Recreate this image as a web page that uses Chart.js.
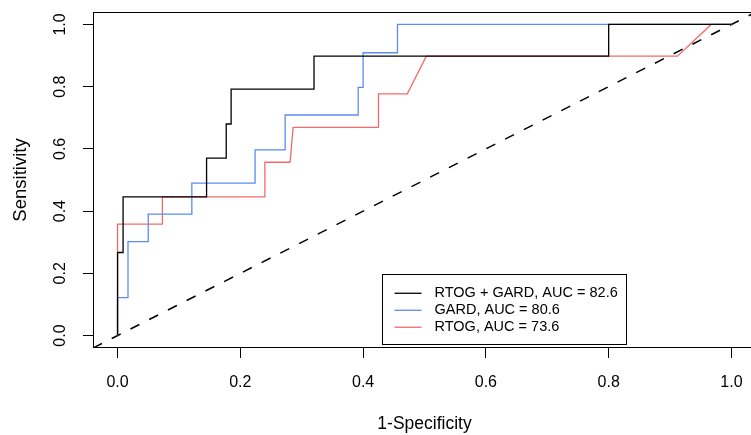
<!DOCTYPE html>
<html>
<head>
<meta charset="utf-8">
<style>
  html, body { margin: 0; padding: 0; background: #fff; overflow: hidden; }
  #wrap { width: 751px; height: 435px; overflow: hidden; }
</style>
<script src="https://cdn.jsdelivr.net/npm/chart.js@4.4.0/dist/chart.umd.min.js"></script>
</head>
<body>
<div id="wrap"><canvas id="roc" width="760" height="435"></canvas></div>
<script>
const FONT = '"Liberation Sans", Arial, Helvetica, sans-serif';

// ROC curve vertices (1-specificity, sensitivity)
const comboFpr = [0, 0, 0.009, 0.009, 0.145, 0.145, 0.177, 0.177, 0.185, 0.185, 0.32, 0.32, 0.8, 0.8, 1];
const comboTpr = [0, 0.267, 0.267, 0.446, 0.446, 0.57, 0.57, 0.68, 0.68, 0.792, 0.792, 0.898, 0.898, 1, 1];

const gardFpr = [0, 0, 0.017, 0.017, 0.05, 0.05, 0.121, 0.121, 0.224, 0.224, 0.273, 0.273, 0.392, 0.392, 0.4, 0.4, 0.456, 0.456, 1];
const gardTpr = [0, 0.122, 0.122, 0.302, 0.302, 0.39, 0.39, 0.49, 0.49, 0.597, 0.597, 0.709, 0.709, 0.798, 0.798, 0.909, 0.909, 1, 1];

const rtogFpr = [0, 0, 0.073, 0.073, 0.24, 0.24, 0.281, 0.286, 0.425, 0.425, 0.472, 0.503, 0.912, 0.967, 1];
const rtogTpr = [0, 0.358, 0.358, 0.446, 0.446, 0.557, 0.557, 0.669, 0.669, 0.777, 0.777, 0.898, 0.898, 1, 1];

const seriesLabels = ['RTOG + GARD, AUC = 82.6', 'GARD, AUC = 80.6', 'RTOG, AUC = 73.6'];
const seriesColors = ['#000000', '#5b8def', '#f36a6a'];

const diagX = [-0.04, 1.04];
const diagY = [-0.04, 1.04];

const xTicks = [0, 0.2, 0.4, 0.6, 0.8, 1.0];
const yTicks = [0, 0.2, 0.4, 0.6, 0.8, 1.0];

function toPoints(xs, ys) {
  return xs.map((x, i) => ({ x: x, y: ys[i] }));
}

function curve(label, color, xs, ys) {
  return {
    label: label,
    data: toPoints(xs, ys),
    borderColor: color,
    backgroundColor: color,
    borderWidth: 1.3,
    pointRadius: 0,
    tension: 0,
    fill: false
  };
}

const boxPlugin = {
  id: 'box',
  afterDraw(chart) {
    const { ctx, chartArea } = chart;
    ctx.save();
    ctx.strokeStyle = '#000';
    ctx.lineWidth = 1;
    ctx.strokeRect(chartArea.left + 0.5, chartArea.top + 0.5,
      chartArea.right - chartArea.left - 1, chartArea.bottom - chartArea.top - 1);
    ctx.restore();
  }
};

const legendBoxPlugin = {
  id: 'legendBox',
  afterDraw(chart) {
    const { ctx } = chart;
    const xs = chart.scales.x;
    const ys = chart.scales.y;
    const items = chart.data.datasets.filter((ds) => ds.label);
    ctx.save();
    ctx.font = '14.5px ' + FONT;
    const textW = Math.max(...items.map((ds) => ctx.measureText(ds.label).width));
    const left = xs.getPixelForValue(0.43);
    const bottom = ys.getPixelForValue(-0.028);
    const rowH = 17;
    const height = 70;
    const width = 13 + 27 + 13 + textW + 8;
    const top = bottom - height;

    ctx.fillStyle = '#fff';
    ctx.fillRect(left, top, width, height);
    ctx.strokeStyle = '#000';
    ctx.lineWidth = 1;
    ctx.strokeRect(Math.round(left) + 0.5, Math.round(top) + 0.5, Math.round(width), Math.round(height));

    items.forEach((ds, i) => {
      const y = top + 19 + i * rowH;
      ctx.strokeStyle = ds.borderColor;
      ctx.lineWidth = ds.borderWidth;
      ctx.beginPath();
      ctx.moveTo(left + 13, y);
      ctx.lineTo(left + 40, y);
      ctx.stroke();
      ctx.fillStyle = '#000';
      ctx.textBaseline = 'middle';
      ctx.textAlign = 'left';
      ctx.fillText(ds.label, left + 53, y);
    });
    ctx.restore();
  }
};

new Chart(document.getElementById('roc'), {
  type: 'line',
  data: {
    datasets: [
      curve(seriesLabels[0], seriesColors[0], comboFpr, comboTpr),
      curve(seriesLabels[1], seriesColors[1], gardFpr, gardTpr),
      curve(seriesLabels[2], seriesColors[2], rtogFpr, rtogTpr),
      {
        data: toPoints(diagX, diagY),
        borderColor: '#000',
        borderWidth: 1.5,
        borderDash: [10, 11],
        pointRadius: 0,
        fill: false
      }
    ]
  },
  plugins: [boxPlugin, legendBoxPlugin],
  options: {
    responsive: false,
    animation: false,
    layout: { padding: { top: 12, right: 4, left: 0, bottom: 0 } },
    plugins: {
      legend: { display: false },
      tooltip: { enabled: false }
    },
    scales: {
      x: {
        type: 'linear',
        min: -0.04,
        max: 1.04,
        afterBuildTicks: (scale) => { scale.ticks = xTicks.map((v) => ({ value: v })); },
        afterFit: (scale) => {
          scale.height = 87;
          scale.paddingLeft = 0;
          scale.paddingRight = 0;
        },
        border: { display: false },
        grid: { display: true, drawOnChartArea: false, drawTicks: true, tickLength: 10, color: '#000', lineWidth: 1 },
        ticks: {
          autoSkip: false,
          maxRotation: 0,
          padding: 15,
          color: '#000',
          font: { family: FONT, size: 16 },
          callback: (v) => Number(v).toFixed(1)
        },
        title: {
          display: true,
          text: '1-Specificity',
          color: '#000',
          font: { family: FONT, size: 17.5 },
          padding: { top: 0, bottom: 0 }
        }
      },
      y: {
        type: 'linear',
        min: -0.04,
        max: 1.04,
        afterBuildTicks: (scale) => { scale.ticks = yTicks.map((v) => ({ value: v })); },
        afterFit: (scale) => {
          scale.width = 93;
          scale.paddingTop = 0;
          scale.paddingBottom = 0;
        },
        border: { display: false },
        grid: { display: true, drawOnChartArea: false, drawTicks: true, tickLength: 10, color: '#000', lineWidth: 1 },
        ticks: {
          autoSkip: false,
          minRotation: 90,
          maxRotation: 90,
          crossAlign: 'center',
          padding: 11,
          color: '#000',
          font: { family: FONT, size: 16 },
          callback: (v) => Number(v).toFixed(1)
        },
        title: {
          display: true,
          text: 'Sensitivity',
          color: '#000',
          font: { family: FONT, size: 18.5 },
          padding: { top: 9.5, bottom: 0 }
        }
      }
    }
  }
});
</script>
</body>
</html>
